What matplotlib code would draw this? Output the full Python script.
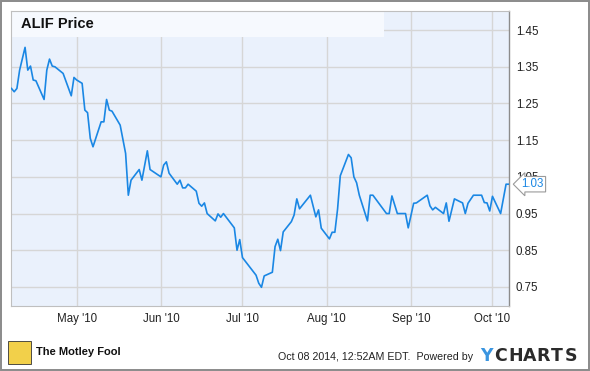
import pandas as pd
import matplotlib.pyplot as plt
import matplotlib.dates as mdates
from matplotlib.patches import Rectangle

plt.rcParams['font.family'] = ['Liberation Sans', 'DejaVu Sans']

# ALIF daily close
dates = [
    '2010-04-07', '2010-04-08', '2010-04-09', '2010-04-10', '2010-04-12', '2010-04-13',
    '2010-04-14', '2010-04-15', '2010-04-16', '2010-04-19', '2010-04-20', '2010-04-21',
    '2010-04-22', '2010-04-23', '2010-04-26', '2010-04-29', '2010-04-30', '2010-05-01',
    '2010-05-03', '2010-05-04', '2010-05-05', '2010-05-06', '2010-05-07', '2010-05-10',
    '2010-05-11', '2010-05-12', '2010-05-13', '2010-05-14', '2010-05-17', '2010-05-19',
    '2010-05-20', '2010-05-21', '2010-05-24', '2010-05-25', '2010-05-27', '2010-05-28',
    '2010-06-01', '2010-06-02', '2010-06-03', '2010-06-04', '2010-06-07', '2010-06-08',
    '2010-06-09', '2010-06-10', '2010-06-11', '2010-06-14', '2010-06-15', '2010-06-16',
    '2010-06-17', '2010-06-18', '2010-06-21', '2010-06-22', '2010-06-23', '2010-06-24',
    '2010-06-28', '2010-06-29', '2010-06-30', '2010-07-01', '2010-07-06', '2010-07-07',
    '2010-07-08', '2010-07-09', '2010-07-12', '2010-07-13', '2010-07-14', '2010-07-15',
    '2010-07-16', '2010-07-19', '2010-07-20', '2010-07-21', '2010-07-22', '2010-07-26',
    '2010-07-28', '2010-07-29', '2010-07-30', '2010-08-02', '2010-08-03', '2010-08-04',
    '2010-08-05', '2010-08-06', '2010-08-09', '2010-08-10', '2010-08-11', '2010-08-12',
    '2010-08-13', '2010-08-16', '2010-08-17', '2010-08-18', '2010-08-23', '2010-08-24',
    '2010-08-25', '2010-08-27', '2010-08-30', '2010-08-31', '2010-09-02', '2010-09-03',
    '2010-09-07', '2010-09-08', '2010-09-09', '2010-09-10', '2010-09-13', '2010-09-14',
    '2010-09-15', '2010-09-17', '2010-09-20', '2010-09-21', '2010-09-22', '2010-09-24',
    '2010-09-27', '2010-09-28', '2010-09-29', '2010-09-30', '2010-10-01', '2010-10-04',
    '2010-10-06', '2010-10-07',
]
prices = [
    1.291, 1.282, 1.291, 1.341, 1.403, 1.341,
    1.352, 1.314, 1.312, 1.261, 1.341, 1.371,
    1.352, 1.350, 1.332, 1.271, 1.321, 1.314,
    1.305, 1.232, 1.225, 1.155, 1.132, 1.200,
    1.200, 1.261, 1.232, 1.229, 1.191, 1.114,
    1.000, 1.041, 1.070, 1.041, 1.121, 1.070,
    1.050, 1.082, 1.091, 1.060, 1.030, 1.041,
    1.020, 1.020, 1.030, 1.011, 0.978, 0.970,
    0.979, 0.950, 0.930, 0.949, 0.940, 0.950,
    0.911, 0.850, 0.879, 0.830, 0.782, 0.760,
    0.749, 0.780, 0.790, 0.860, 0.880, 0.849,
    0.900, 0.928, 0.946, 0.990, 0.963, 1.000,
    0.941, 0.960, 0.910, 0.881, 0.899, 0.899,
    0.962, 1.053, 1.111, 1.102, 1.050, 1.034,
    1.000, 0.930, 1.000, 1.000, 0.950, 0.950,
    0.998, 0.950, 0.950, 0.911, 0.978, 0.979,
    1.000, 0.971, 0.960, 0.967, 0.950, 0.979,
    0.929, 0.990, 0.979, 0.950, 0.978, 1.000,
    1.000, 0.980, 0.979, 0.957, 0.997, 0.950,
    1.030, 1.030,
]
y_ticks = [0.75, 0.85, 0.95, 1.05, 1.15, 1.25, 1.35, 1.45]
month_ticks = ['2010-05-01', '2010-06-01', '2010-07-01', '2010-08-01', '2010-09-01', '2010-10-01']
last_label = '1.03'

x = pd.to_datetime(dates)
line_color = '#1a87e4'
grid_color = '#d6d6d6'

fig = plt.figure(figsize=(5.9, 3.71), dpi=100)
fig.patch.set_facecolor('white')

# grey frame round the whole picture
fig.add_artist(Rectangle((0.001, 0.002), 0.997, 0.995, transform=fig.transFigure,
                         fill=False, edgecolor='#8a8a8a', linewidth=1.4))

ax = fig.add_axes([0.0181, 0.1752, 0.8446, 0.796])
ax.set_facecolor('#eaf1fc')

ax.plot(x, prices, color=line_color, linewidth=1.2, zorder=3)

ax.set_xlim(pd.Timestamp('2010-04-06 17:00'), pd.Timestamp('2010-10-07 02:00'))
ax.set_ylim(0.698, 1.503)

ax.set_yticks(y_ticks)
ax.set_yticklabels([f'{v:.2f}' for v in y_ticks])
ax.yaxis.tick_right()
ax.set_xticks(pd.to_datetime(month_ticks))
ax.xaxis.set_major_formatter(mdates.DateFormatter("%b '%y"))

ax.grid(True, color=grid_color, linewidth=1.0)
ax.set_axisbelow(True)
ax.tick_params(axis='both', length=0, labelsize=8.3, colors='#222222')
ax.tick_params(axis='y', pad=5)
ax.tick_params(axis='x', pad=5)

for side in ['left', 'top', 'bottom']:
    ax.spines[side].set_color('#bfbfbf')
    ax.spines[side].set_linewidth(0.8)
ax.spines['right'].set_color('#8c8c8c')
ax.spines['right'].set_linewidth(1.0)

# title band
ax.add_patch(Rectangle((0, 0.91), 0.75, 0.09, transform=ax.transAxes,
                       facecolor='#f6f9fe', edgecolor='none', zorder=1))
ax.text(0.02, 0.955, 'ALIF Price', transform=ax.transAxes, fontsize=10.5,
        fontweight='bold', color='#111111', va='center', ha='left', zorder=4)

# last value callout, drawn over the 1.05 tick label as in the original
ax.annotate(last_label, xy=(1.0, prices[-1]), xycoords=('axes fraction', 'data'),
            xytext=(9, 0), textcoords='offset points', fontsize=8.3, color=line_color,
            va='center', ha='left', annotation_clip=False, zorder=5,
            bbox=dict(boxstyle='larrow,pad=0.15', facecolor='white',
                      edgecolor='#9a9a9a', linewidth=0.8))

# footer
fig.add_artist(Rectangle((8 / 590, 1 - 364 / 371), 23 / 590, 23 / 371,
                         transform=fig.transFigure, facecolor='#f2d04a',
                         edgecolor='#333333', linewidth=0.6))
fig.text(36 / 590, 1 - 352 / 371, 'The Motley Fool', fontsize=8, color='#111111',
         va='center', ha='left', fontweight='bold')
fig.text(278 / 590, 1 - 357 / 371, 'Oct 08 2014, 12:52AM EDT.  Powered by',
         fontsize=7.7, color='#222222', va='center', ha='left')
logo_letters = ['Y', 'C', 'H', 'A', 'R', 'T', 'S']
for i, ch in enumerate(logo_letters):
    fig.text((480 + i * 14.2) / 590, 1 - 356 / 371, ch, fontsize=12.5,
             fontweight='bold', family='DejaVu Sans',
             color='#3a95e0' if ch == 'Y' else '#2b2b2b', va='center', ha='left')

fig.savefig('out.png', dpi=100)
